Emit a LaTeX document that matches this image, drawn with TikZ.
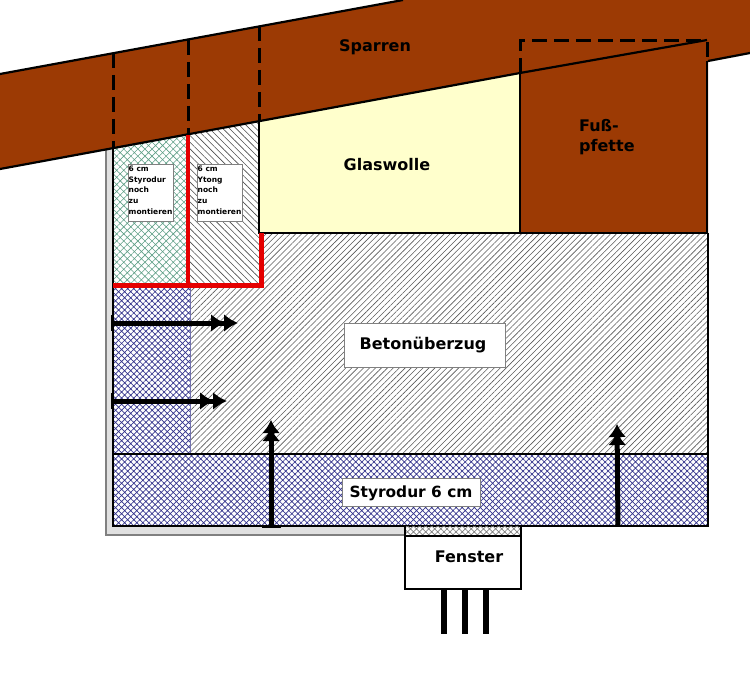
\documentclass[tikz,border=0pt]{standalone}
\usepackage{fontspec}
\setmainfont{DejaVu Sans}
\usetikzlibrary{arrows.meta,patterns.meta}
\definecolor{sparrenbrown}{HTML}{9C3A04}
\definecolor{wollegelb}{HTML}{FFFFCC}
\definecolor{styroblau}{HTML}{34348C}
\definecolor{styrogruen}{HTML}{5F9F87}
\tikzset{
    label/.style={font=\bfseries\fontsize{16}{20}\selectfont},
    tafel/.style={draw=gray,fill=white,inner sep=0pt},
    klein/.style={font=\bfseries\fontsize{7.5}{10.6}\selectfont,align=left,anchor=north west,inner sep=0pt},
    kante/.style={line width=2.8pt},
    strich/.style={line width=3pt,dash pattern=on 15pt off 7pt},
    pfeil/.style={line width=5pt,-{Latex[length=13pt,width=18pt,sep=-5pt]Latex[length=13pt,width=18pt]}},
    doppelpfeil/.style={line width=5pt,-{Latex[length=14pt,width=18pt,sep=-1pt]Latex[length=14pt,width=18pt]}},
    beton/.style={pattern={Lines[angle=45,distance=4.2pt,line width=.6pt]},pattern color=black!65},
    ytong/.style={pattern={Lines[angle=-45,distance=4.7pt,line width=.6pt]},pattern color=black!70},
    blauhatch/.style={pattern={Hatch[angle=45,distance=4.3pt,line width=.7pt]},pattern color=styroblau}
}
\begin{document}
\begin{tikzpicture}[x=1pt,y=-1pt]
    \useasboundingbox (0,0) rectangle (750,690);

    % Putz
    \fill[black!12] (106,150) rectangle (113,535);
    \fill[black!12] (106,526) rectangle (405,535);
    \draw[gray,line width=1.2pt] (106,150) -- (106,535) -- (405,535);

    % Daemmung und Beton
    \fill[wollegelb] (259,122) -- (520,73) -- (520,233) -- (259,233) -- cycle;
    \fill[pattern={Hatch[angle=45,distance=5pt,line width=.6pt]},pattern color=styrogruen]
        (113,148) -- (188,135) -- (188,285) -- (113,285) -- cycle;
    \fill[ytong] (188,135) -- (259,122) -- (259,285) -- (188,285) -- cycle;
    \fill[beton] (190,285) -- (262,285) -- (262,233) -- (708,233) -- (708,454) -- (190,454) -- cycle;
    \fill[blauhatch] (113,285) rectangle (190,454);
    \draw[styroblau!70,line width=.8pt] (190,285) -- (190,454);
    \fill[blauhatch] (113,454) rectangle (708,526);

    % Sparren und Fusspfette
    \fill[sparrenbrown] (0,74) -- (403,0) -- (750,0) -- (750,53) -- (708,61) -- (708,40)
        -- (520,73) -- (0,169) -- cycle;
    \fill[sparrenbrown] (520,73) -- (708,40) -- (708,233) -- (520,233) -- cycle;
    \draw[line width=2.2pt] (0,74) -- (403,0);
    \draw[line width=2.2pt] (0,169) -- (520,73) -- (707,40);
    \draw[line width=2.2pt] (708,61) -- (750,53);

    % Kanten
    \draw[kante] (259,122) -- (259,233) -- (708,233);
    \draw[kante] (520,73) -- (520,233);
    \draw[kante] (707,61) -- (707,233);
    \draw[kante] (708,233) -- (708,526) -- (113,526) -- (113,148);
    \draw[kante] (113,454) -- (708,454);

    % rot
    \draw[red!90!black,line width=3.4pt] (188,135) -- (188,285);
    \draw[red!90!black,line width=5pt] (113,285) -- (261,285) -- (261,233);

    % gestrichelt
    \draw[strich] (113,53) -- (113,148);
    \draw[strich] (188,40) -- (188,135);
    \draw[strich] (259,26) -- (259,122);
    \draw[strich] (520,73) -- (520,41) -- (707,41) -- (707,61);

    % Fenster
    \fill[pattern={Hatch[angle=45,distance=4.3pt,line width=.7pt]},pattern color=black!50]
        (405,526) rectangle (521,535);
    \draw[kante,fill=white] (405,536) rectangle (521,589);
    \draw[kante] (405,526) -- (405,536);
    \draw[kante] (521,526) -- (521,536);
    \foreach \x in {444,465,486}
        \draw[line width=5.5pt] (\x,589) -- (\x,634);

    % Pfeile
    \coordinate (pfeilAa) at (112,323);
    \coordinate (pfeilAb) at (238,323);
    \coordinate (pfeilBa) at (112,401);
    \coordinate (pfeilBb) at (227,401);
    \coordinate (pfeilCa) at (271,526);
    \coordinate (pfeilCb) at (271,420);
    \coordinate (pfeilDa) at (618,526);
    \coordinate (pfeilDb) at (617,424);
    \draw[doppelpfeil] (pfeilAa) -- (pfeilAb);
    \draw[doppelpfeil] (pfeilBa) -- (pfeilBb);
    \draw[pfeil] (pfeilCa) -- (pfeilCb);
    \draw[pfeil] (pfeilDa) -- (pfeilDb);
    \draw[line width=2.8pt] (112,315) -- (112,331);
    \draw[line width=2.8pt] (112,393) -- (112,409);
    \draw[line width=2.8pt] (262,527) -- (281,527);

    % Tafeln
    \draw[tafel] (128,164) rectangle (173,221);
    \draw[tafel] (197,164) rectangle (242,221);
    \draw[tafel] (344,323) rectangle (505,367);
    \draw[tafel] (342,478) rectangle (480,506);

    % Texte
    \node (sparren) at (375,47.5) [label] {Sparren};
    \node (glaswolle) at (387,165) [label] {Glaswolle};
    \node (pfette) at (579,137) [label,anchor=west,align=left,inner sep=0pt] {Fuß-\\pfette};
    \node (beton) at (423,345) [label] {Betonüberzug};
    \node (styrodur) at (411,493) [label,font=\bfseries\fontsize{15.4}{20}\selectfont] {Styrodur 6 cm};
    \node (fenster) at (469,557) [label] {Fenster};
    \node (notizA) at (128.5,166) [klein] {6 cm\\Styrodur\\noch\\zu\\montieren};
    \node (notizB) at (197.5,166) [klein] {6 cm\\Ytong\\noch\\zu\\montieren};
\end{tikzpicture}
\end{document}
